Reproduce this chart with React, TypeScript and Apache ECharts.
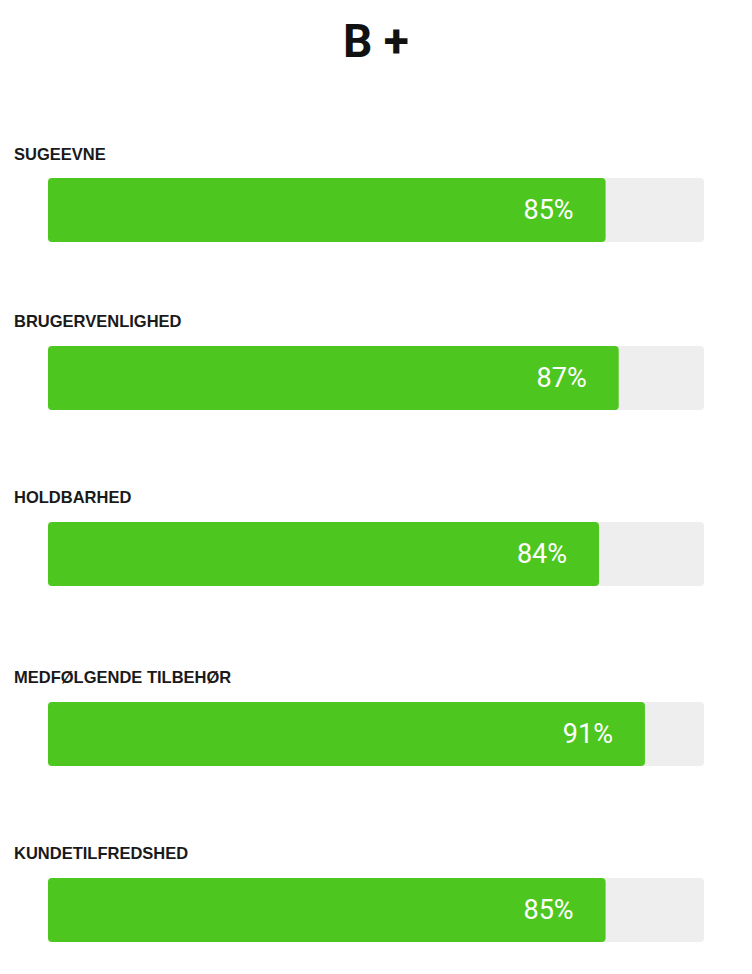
import React, { useEffect, useRef } from "react";
import * as echarts from "echarts";

const titleText = "B +";
const categories = ["SUGEEVNE", "BRUGERVENLIGHED", "HOLDBARHED", "MEDFØLGENDE TILBEHØR", "KUNDETILFREDSHED"];
const values = [85, 87, 84, 91, 85];
const barTops = [178, 346, 522, 702, 878];
const labelYs = [155, 322, 498, 678, 854];

export default function App() {
  const ref = useRef<HTMLDivElement>(null);
  useEffect(() => {
    document.body.style.margin = "0";
    const chart = echarts.init(ref.current!, null, { renderer: "svg" });
    const grids: any[] = [];
    const xAxes: any[] = [];
    const yAxes: any[] = [];
    const series: any[] = [];
    const graphics: any[] = [];
    categories.forEach((c, i) => {
      grids.push({ left: 48, width: 656, top: barTops[i], height: 64 });
      xAxes.push({ type: "value", gridIndex: i, min: 0, max: 100, show: false });
      yAxes.push({ type: "category", gridIndex: i, data: [c], show: false });
      series.push({
        type: "bar",
        xAxisIndex: i,
        yAxisIndex: i,
        data: [values[i]],
        barWidth: 64,
        itemStyle: { color: "#4dc71f", borderRadius: 4 },
        showBackground: true,
        backgroundStyle: { color: "#eeeeee", borderRadius: 4 },
        label: {
          show: true,
          position: "insideRight",
          distance: 32,
          formatter: "{c}%",
          color: "#ffffff",
          fontFamily: "Roboto",
          fontSize: 27,
          fontWeight: "normal",
        },
      });
      graphics.push({
        type: "text",
        left: 14,
        top: labelYs[i] - 10,
        style: {
          text: c,
          fontFamily: "Liberation Sans, Arial",
          fontSize: 16.5,
          fontWeight: "bold",
          fill: "#1a1a1a",
        },
      });
    });
    chart.setOption({
      animation: false,
      title: {
        text: titleText,
        left: "center",
        top: 13,
        textStyle: { fontFamily: "Roboto", fontSize: 46, fontWeight: "bold", color: "#111111" },
      },
      grid: grids,
      xAxis: xAxes,
      yAxis: yAxes,
      series,
      graphic: graphics,
    });
    return () => chart.dispose();
  }, []);
  return <div ref={ref} style={{ width: 752, height: 974 }} />;
}
